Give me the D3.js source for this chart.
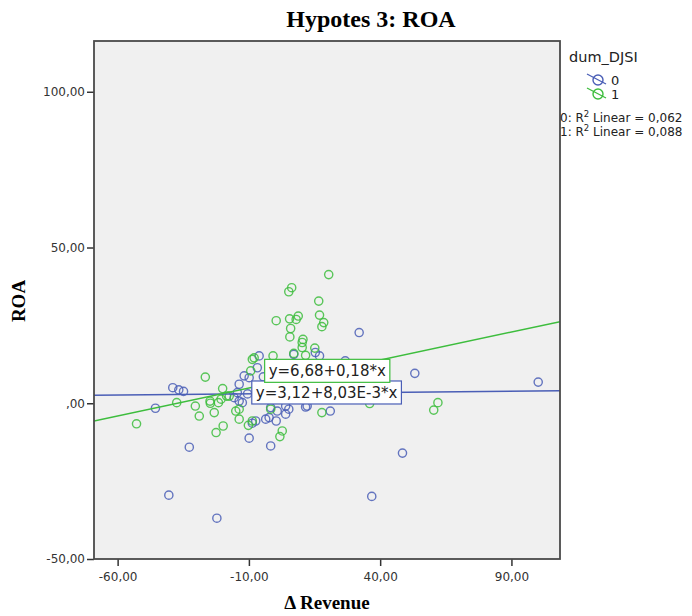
<!DOCTYPE html>
<html>
<head>
<meta charset="utf-8">
<script src="https://cdn.jsdelivr.net/npm/d3@7"></script>
<style>
  body { margin: 0; background: #fff; }
  .tick text { font-family: "DejaVu Sans", sans-serif; font-size: 12px; fill: #333; }
  .tick line { stroke: #333; stroke-width: 1.5; }
</style>
</head>
<body>
<svg id="chart" width="692" height="616"></svg>
<script>
// dum_DJSI = 0
var revenue0 = [-45.6, -39.0, -36.7, -34.9, -32.7, -40.5, -22.2, -9.9, -1.7, -8.7, -3.6, 0.4, -6.1, -6.8,
  -11.8, -9.9, -13.7, -14.4, -15.6, -13.7, -1.7, 0.8, 4.0, -2.3, 5.2, 12.2, 3.3, -7.4, 7.1, 15.3, -12.5,
  4.0, 21.0, 11.6, 32.0, 53.2, 100.2, 48.5, 36.8, 16.9, 26.7, -4.5, 2.0, -10.5, 8.5, 18.0];
var roa0 = [-1.6, 5.0, 4.3, 3.8, -14.1, -29.5, -36.9, -11.2, -13.7, -6.4, -5.1, -5.7, 15.2, 11.4,
  8.8, 8.2, 6.1, 3.4, 1.8, 0.7, -1.4, -2.5, -0.9, -4.6, -1.9, -0.9, 1.8, -5.7, 15.7, 16.3, 0.2,
  -3.5, -2.5, -1.2, 22.7, 9.6, 6.8, -16.0, -29.9, 15.2, 13.6, 8.5, 6.5, 3.0, 4.0, 5.5];

// dum_DJSI = 1
var revenue1 = [20.4, 6.3, 5.2, 16.6, 0.4, 5.5, 8.8, 8.0, 16.9, 18.5, 17.8, 5.9, 5.6, 10.6, 10.3, 15.1,
  7.1, 11.6, -0.8, -8.0, -26.6, -37.5, -52.8, -30.4, -28.9, -24.7, -23.2, -21.6, -20.0, -19.8, -22.5,
  -18.5, -9.3, -17.5, -15.0, -13.7, -8.7, 17.8, -1.7, -10.2, 2.7, 1.8, 62.0, 60.4, 36.0, -24.8, -20.6,
  -13.7, -8.7, 10.3];
var roa1 = [41.3, 37.1, 35.8, 32.8, 26.5, 27.1, 28.0, 26.9, 28.3, 25.9, 24.6, 24.0, 21.3, 20.5, 17.9, 17.7,
  16.0, 15.4, 15.2, 14.6, 8.4, 0.2, -6.6, -0.9, -4.1, 0.0, -3.0, 0.2, 4.7, -7.3, -9.4,
  2.3, 10.4, 2.3, -2.5, -5.1, -5.7, -3.0, -1.9, -7.1, -8.9, -10.7, 0.2, -2.2, -0.1, 0.7, 1.3,
  -1.9, 14.1, 19.5];

var groups = ["0", "1"];
var groupColors = ["#4a5eb6", "#3dbd3d"];
var fitIntercept = [3.12, 6.68];
var fitSlope = [0.00803, 0.18];
var fitLabels = ["y=3,12+8,03E-3*x", "y=6,68+0,18*x"];
var fitLabelAt = [[-8.9, 7.15], [-4.0, 14.1]];
var r2Values = ["0,062", "0,088"];
var xTicks = [-60, -10, 40, 90];
var yTicks = [-50, 0, 50, 100];

var svg = d3.select("#chart");
var margin = {left: 94, right: 560, top: 41, bottom: 559};

var x = d3.scaleLinear().domain([-69, 108.5]).range([margin.left, margin.right]);
var y = d3.scaleLinear().domain([-50, 116.3]).range([margin.bottom, margin.top]);
var plotW = margin.right - margin.left, plotH = margin.bottom - margin.top;

function fmt(v) {
  var s = v.toFixed(2).replace(".", ",");
  return v === 0 ? s.slice(1) : s;
}

// plot background
svg.append("rect")
  .attr("x", margin.left).attr("y", margin.top)
  .attr("width", plotW).attr("height", plotH)
  .attr("fill", "#f0f0f0");

svg.append("defs").append("clipPath").attr("id", "plotclip")
  .append("rect")
  .attr("x", margin.left).attr("y", margin.top)
  .attr("width", plotW).attr("height", plotH);

// axes
var gx = svg.append("g")
  .attr("transform", "translate(0," + margin.bottom + ")")
  .call(d3.axisBottom(x).tickValues(xTicks).tickFormat(fmt).tickSize(7).tickPadding(6));
gx.select(".domain").remove();

var gy = svg.append("g")
  .attr("transform", "translate(" + margin.left + ",0)")
  .call(d3.axisLeft(y).tickValues(yTicks).tickFormat(fmt).tickSize(7).tickPadding(2));
gy.select(".domain").remove();

var plot = svg.append("g").attr("clip-path", "url(#plotclip)");

// points
var series = [
  revenue0.map(function(d, i) { return {x: d, y: roa0[i]}; }),
  revenue1.map(function(d, i) { return {x: d, y: roa1[i]}; })
];
series.forEach(function(pts, gi) {
  plot.append("g").selectAll("circle")
    .data(pts).enter().append("circle")
    .attr("cx", function(d) { return x(d.x); })
    .attr("cy", function(d) { return y(d.y); })
    .attr("r", 4.1)
    .attr("fill", "none")
    .attr("stroke", groupColors[gi])
    .attr("stroke-opacity", 0.85)
    .attr("stroke-width", 1.4);
});

// fit lines
var xd = x.domain();
groups.forEach(function(g, gi) {
  plot.append("line")
    .attr("x1", x(xd[0])).attr("y1", y(fitIntercept[gi] + fitSlope[gi] * xd[0]))
    .attr("x2", x(xd[1])).attr("y2", y(fitIntercept[gi] + fitSlope[gi] * xd[1]))
    .attr("stroke", groupColors[gi])
    .attr("stroke-width", 1.5);
});

// fit equation labels
groups.forEach(function(g, gi) {
  var lx = x(fitLabelAt[gi][0]), ly = y(fitLabelAt[gi][1]);
  var box = svg.append("rect")
    .attr("x", lx).attr("y", ly).attr("height", 23)
    .attr("fill", "#fff")
    .attr("stroke", groupColors[gi])
    .attr("stroke-width", 1.2);
  var t = svg.append("text")
    .attr("x", lx + 4).attr("y", ly + 17)
    .attr("font-family", "DejaVu Sans, sans-serif")
    .attr("font-size", 15)
    .attr("fill", "#222")
    .text(fitLabels[gi]);
  box.attr("width", t.node().getComputedTextLength() + 8);
});

// frame
svg.append("rect")
  .attr("x", margin.left).attr("y", margin.top)
  .attr("width", plotW).attr("height", plotH)
  .attr("fill", "none")
  .attr("stroke", "#4a4a4a")
  .attr("stroke-width", 1.8);

// titles
svg.append("text")
  .attr("x", 371).attr("y", 27)
  .attr("text-anchor", "middle")
  .attr("font-family", "Liberation Serif, serif")
  .attr("font-weight", "bold")
  .attr("font-size", 24)
  .text("Hypotes 3: ROA");

svg.append("text")
  .attr("x", (margin.left + margin.right) / 2).attr("y", 609)
  .attr("text-anchor", "middle")
  .attr("font-family", "Liberation Serif, serif")
  .attr("font-weight", "bold")
  .attr("font-size", 19)
  .text("\u0394 Revenue");

svg.append("text")
  .attr("transform", "translate(25,301) rotate(-90)")
  .attr("text-anchor", "middle")
  .attr("font-family", "Liberation Serif, serif")
  .attr("font-weight", "bold")
  .attr("font-size", 19)
  .text("ROA");

// legend
var legend = svg.append("g");
legend.append("text")
  .attr("x", 569).attr("y", 62)
  .attr("font-family", "DejaVu Sans, sans-serif")
  .attr("font-size", 14.5)
  .attr("fill", "#222")
  .text("dum_DJSI");

groups.forEach(function(g, gi) {
  var cy = 80 + gi * 14, cx = 598;
  legend.append("circle")
    .attr("cx", cx).attr("cy", cy).attr("r", 5)
    .attr("fill", "none")
    .attr("stroke", groupColors[gi])
    .attr("stroke-width", 1.4);
  legend.append("line")
    .attr("x1", cx - 11).attr("y1", cy - 6)
    .attr("x2", cx + 8).attr("y2", cy + 4)
    .attr("stroke", groupColors[gi])
    .attr("stroke-width", 1.3);
  legend.append("text")
    .attr("x", 611).attr("y", cy + 5)
    .attr("font-family", "DejaVu Sans, sans-serif")
    .attr("font-size", 13)
    .attr("fill", "#222")
    .text(g);

  var r2 = legend.append("text")
    .attr("x", 560).attr("y", 122 + gi * 14)
    .attr("font-family", "DejaVu Sans, sans-serif")
    .attr("font-size", 12)
    .attr("fill", "#222");
  r2.append("tspan").text(g + ": R");
  r2.append("tspan").attr("dy", -5).attr("font-size", 8.5).text("2");
  r2.append("tspan").attr("dy", 5).text(" Linear = " + r2Values[gi]);
});
</script>
</body>
</html>
